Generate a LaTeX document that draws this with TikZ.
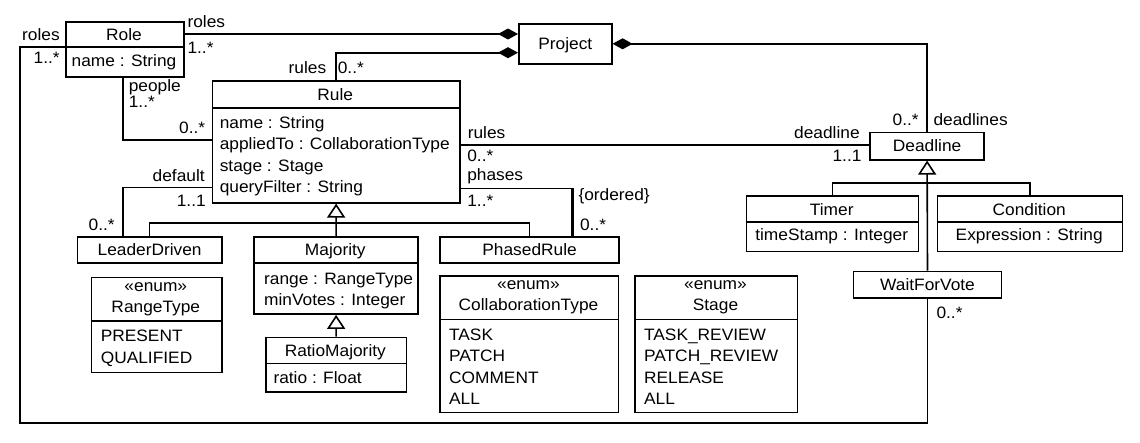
\documentclass[tikz,border=0pt]{standalone}
\usepackage{fontspec}
\setmainfont[FakeStretch=1.05]{Liberation Sans}
\usetikzlibrary{arrows.meta}
\newcommand\uf{\fontsize{16.5}{19}\selectfont}
\begin{document}
\begin{tikzpicture}[x=1pt,y=-1pt, line width=1.6pt,
 box/.style={draw, rectangle, inner sep=0pt, anchor=north west},
 sbox/.style={draw, rectangle, inner sep=0pt, anchor=north west, font=\uf, text height=13pt, text depth=2pt},
 txt/.style={inner sep=0pt, anchor=base, font=\uf},
 att/.style={inner sep=0pt, anchor=base west, font=\uf},
 lab/.style={inner sep=0pt, anchor=base west, font=\uf},
 labr/.style={inner sep=0pt, anchor=base east, font=\uf},
 comp/.style={-{Diamond[length=20pt,width=11pt]}},
 compb/.style={{Diamond[length=20pt,width=11pt]}-},
 gen/.style={-{Triangle[open,length=14pt,width=18pt,fill=white]}},
]
\useasboundingbox (0,0) rectangle (1140,442);

% ---------- classes ----------
% Role
\node[box, minimum width=118pt, minimum height=55pt] (Role) at (65,21) {};
\draw (Role.west |- 0,47) -- (Role.east |- 0,47);
\node[txt] (tRole) at (124,40) {Role};
\node[txt] (aRole) at (124,66.5) {name : String};

% Project
\node[sbox, minimum width=93pt, minimum height=40pt] (Project) at (518,23) {Project};

% Rule
\node[box, minimum width=247.3pt, minimum height=122pt] (Rule) at (211.7,80) {};
\draw (Rule.west |- 0,108) -- (Rule.east |- 0,108);
\node[txt] (tRule) at (335.3,100) {Rule};
\node[att] (aRule1) at (219,128.5) {name : String};
\node[att] (aRule2) at (219,149.8) {appliedTo : CollaborationType};
\node[att] (aRule3) at (219,171.1) {stage : Stage};
\node[att] (aRule4) at (219,192.4) {queryFilter : String};

% LeaderDriven, PhasedRule
\node[sbox, minimum width=144.3pt, minimum height=26.3pt] (Leader) at (76.7,236) {LeaderDriven};
\node[sbox, minimum width=179pt, minimum height=26.3pt] (Phased) at (439.3,236) {PhasedRule};

% Majority
\node[box, minimum width=164pt, minimum height=77.3pt] (Majority) at (253.3,236) {};
\draw (Majority.west |- 0,262.7) -- (Majority.east |- 0,262.7);
\node[txt] (tMaj) at (335.3,255) {Majority};
\node[att] (aMaj1) at (263.3,284) {range : RangeType};
\node[att] (aMaj2) at (263.3,305) {minVotes : Integer};

% RatioMajority
\node[box, minimum width=140.7pt, minimum height=54.3pt] (Ratio) at (265,336.7) {};
\draw (Ratio.west |- 0,363.3) -- (Ratio.east |- 0,363.3);
\node[txt] (tRatio) at (335.3,356.7) {RatioMajority};
\node[att] (aRatio) at (272.7,383) {ratio : Float};

% RangeType
\node[box, minimum width=130.3pt, minimum height=95pt] (Range) at (90.7,276.7) {};
\draw (Range.west |- 0,320.7) -- (Range.east |- 0,320.7);
\node[txt] (sRange) at (155.8,291) {«enum»};
\node[txt] (tRange) at (155.8,312) {RangeType};
\node[att] (aRange1) at (100,341.7) {PRESENT};
\node[att] (aRange2) at (100,363) {QUALIFIED};

% CollaborationType
\node[box, minimum width=178.4pt, minimum height=136.7pt] (Collab) at (439.3,275) {};
\draw (Collab.west |- 0,319.3) -- (Collab.east |- 0,319.3);
\node[txt] (sCollab) at (528.5,289.5) {«enum»};
\node[txt] (tCollab) at (528.5,310.5) {CollaborationType};
\node[att] (aCol1) at (448.3,340) {TASK};
\node[att] (aCol2) at (448.3,361.5) {PATCH};
\node[att] (aCol3) at (448.3,383) {COMMENT};
\node[att] (aCol4) at (448.3,404.5) {ALL};

% Stage
\node[box, minimum width=162.4pt, minimum height=136.7pt] (Stage) at (634.3,275) {};
\draw (Stage.west |- 0,319.3) -- (Stage.east |- 0,319.3);
\node[txt] (sStage) at (715.5,289.5) {«enum»};
\node[txt] (tStage) at (715.5,310.5) {Stage};
\node[att] (aSt1) at (643.3,340) {TASK\_REVIEW};
\node[att] (aSt2) at (643.3,361.5) {PATCH\_REVIEW};
\node[att] (aSt3) at (643.3,383) {RELEASE};
\node[att] (aSt4) at (643.3,404.5) {ALL};

% Deadline
\node[sbox, minimum width=114pt, minimum height=27.3pt] (Deadline) at (869.3,131.7) {Deadline};

% Timer
\node[box, minimum width=172pt, minimum height=55.7pt] (Timer) at (745.7,195) {};
\draw (Timer.west |- 0,221.7) -- (Timer.east |- 0,221.7);
\node[txt] (tTimer) at (831.7,215) {Timer};
\node[txt] (aTimer) at (831.7,240) {timeStamp : Integer};

% Condition
\node[box, minimum width=185pt, minimum height=55.7pt] (Cond) at (936.7,195) {};
\draw (Cond.west |- 0,221.7) -- (Cond.east |- 0,221.7);
\node[txt] (tCond) at (1029.2,215) {Condition};
\node[txt] (aCond) at (1029.2,240) {Expression : String};

% WaitForVote
\node[sbox, minimum width=148pt, minimum height=26.6pt] (Wait) at (852.7,270.7) {WaitForVote};

% ---------- connectors ----------
\draw[comp] (Role.east |- 0,34) -- (Project.west |- 0,34);
\draw[comp] (Rule.north) |- (Project.west |- 0,52.7);
\draw[compb] (Project.east) -| (Deadline.north);
\draw (Role.south -| 123,0) |- (Rule.west |- 0,140);
\draw (Role.west |- 0,47) -| (20,423) -| (Wait.south);
\draw (Rule.east |- 0,144.7) -- (Deadline.west |- 0,144.7);
\draw (Rule.west |- 0,187.3) -| (Leader.north -| 122.7,0);
\coordinate (ph) at (572.3,188.3);
\draw (Rule.east |- ph) -- (ph);
\draw[line width=3pt] (ph) -- (Phased.north -| ph);
\draw[gen] (Majority.north) -- (Rule.south);
\draw (Leader.north) |- (Phased.north |- 0,222.7) -- (Phased.north);
\draw[gen] (Ratio.north) -- (Majority.south);
\draw[gen] (Wait.north) -- (Deadline.south);
\draw (Timer.north) |- (Cond.north |- 0,182.7) -- (Cond.north);

% ---------- labels ----------
\node[labr] (l1) at (60.5,40) {roles};
\node[labr] (l2) at (60.5,63) {1..*};
\node[lab] (l3) at (186.7,27) {roles};
\node[lab] (l4) at (186.7,53) {1..*};
\node[labr] (l5) at (327,73) {rules};
\node[lab] (l6) at (337,73) {0..*};
\node[lab] (l7) at (128,91) {people};
\node[lab] (l8) at (128,107) {1..*};
\node[labr] (l9) at (206,133) {0..*};
\node[labr] (l10) at (205.5,181.7) {default};
\node[labr] (l11) at (206.5,206.7) {1..1};
\node[labr] (l12) at (115.5,230.7) {0..*};
\node[lab] (l13) at (467,138.3) {rules};
\node[lab] (l14) at (466.5,161.7) {0..*};
\node[lab] (l15) at (466.5,180) {phases};
\node[lab] (l16) at (466.5,206.7) {1..*};
\node[lab] (l17) at (577.7,200) {\{ordered\}};
\node[lab] (l18) at (579.3,230) {0..*};
\node[labr] (l19) at (860.5,138.3) {deadline};
\node[labr] (l20) at (862.3,161.7) {1..1};
\node[labr] (l21) at (919.5,125) {0..*};
\node[lab] (l22) at (932.7,125) {deadlines};
\node[lab] (l23) at (935.7,318) {0..*};
\end{tikzpicture}
\end{document}
